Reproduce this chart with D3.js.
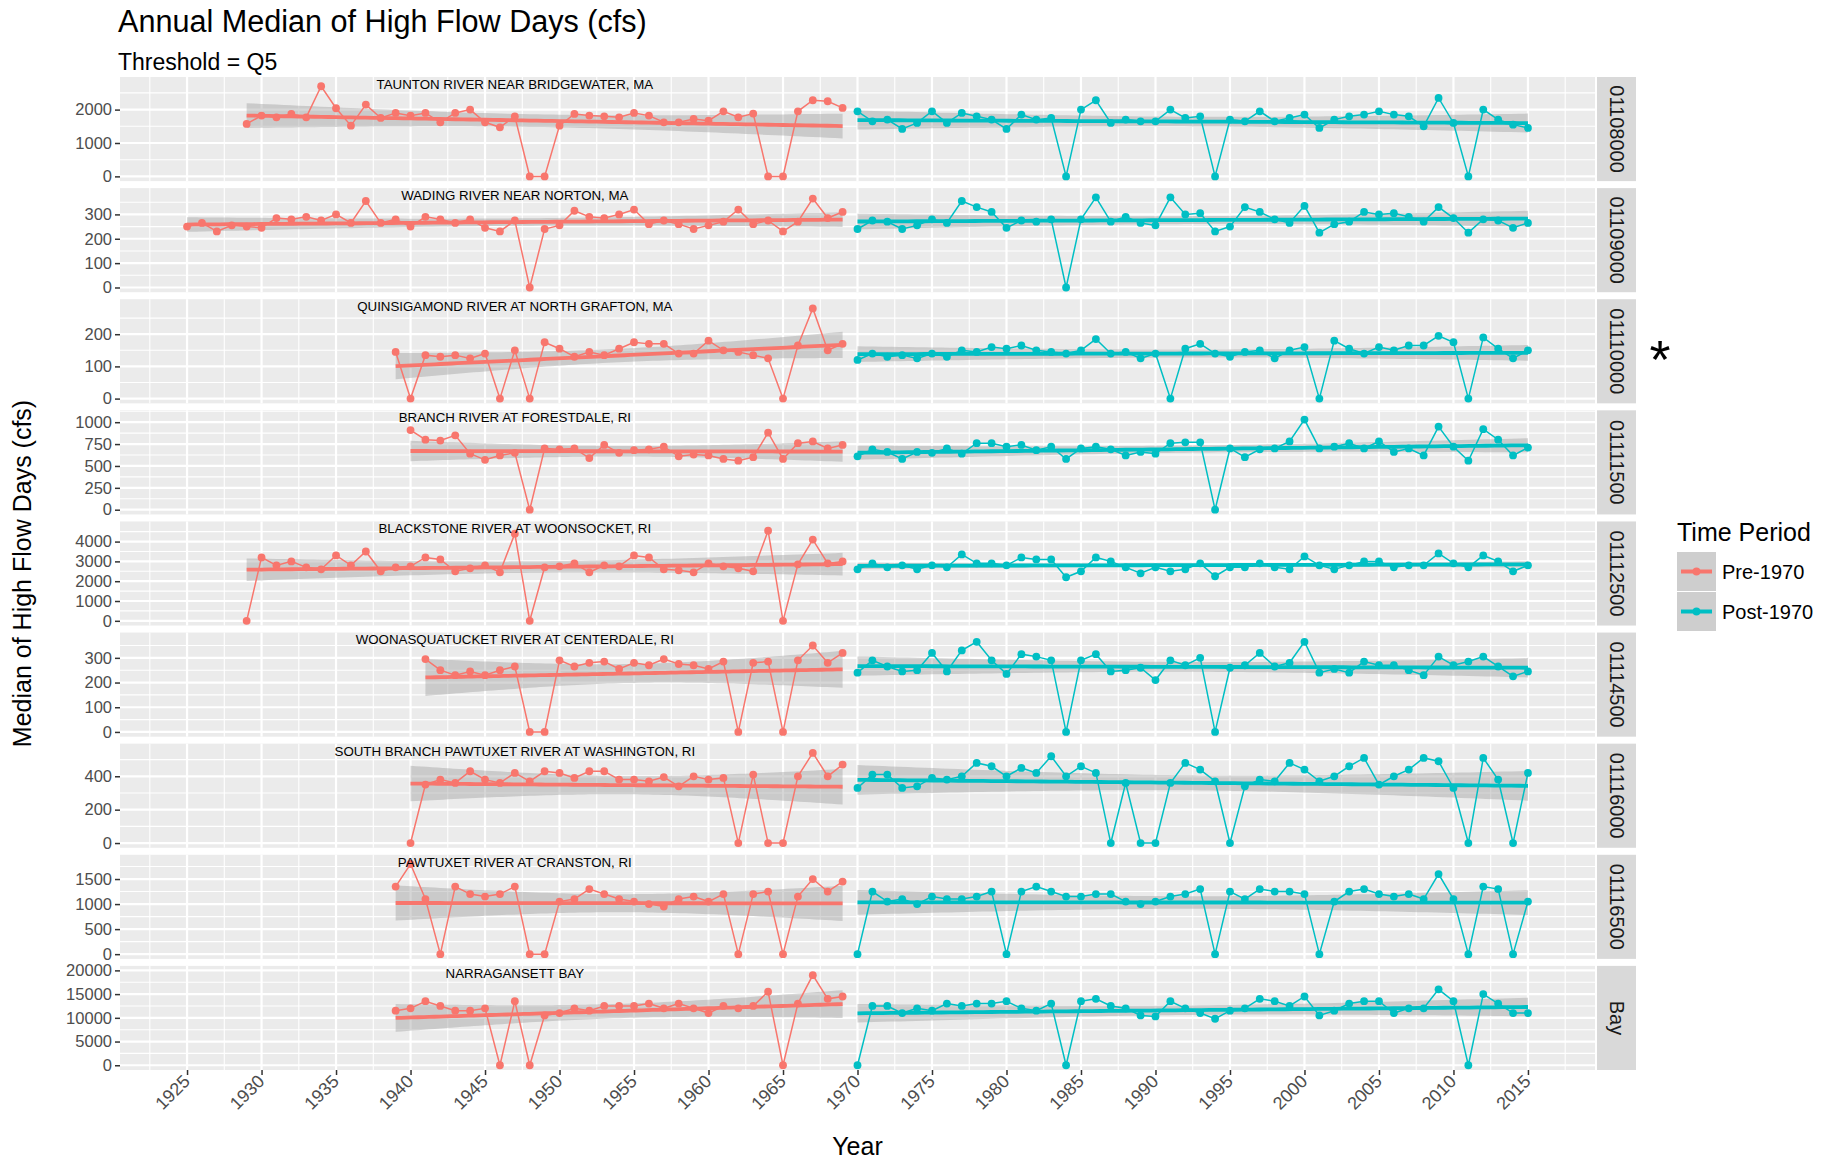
<!DOCTYPE html>
<html>
<head>
<meta charset="utf-8">
<script src="https://cdn.jsdelivr.net/npm/d3@7"></script>
<style>
  body { margin: 0; background: #ffffff; }
  svg { display: block; font-family: "Liberation Sans", Arial, Helvetica, sans-serif; }
</style>
</head>
<body>
<svg id="chart" width="1830" height="1160"></svg>
<script>
// ---- Data: annual median of high-flow days (cfs), threshold Q5 ----
const stations = ["01108000", "01109000", "01110000", "01111500", "01112500",
                  "01114500", "01116000", "01116500", "Bay"];
const riverNames = ["TAUNTON RIVER NEAR BRIDGEWATER, MA", "WADING RIVER NEAR NORTON, MA",
                    "QUINSIGAMOND RIVER AT NORTH GRAFTON, MA", "BRANCH RIVER AT FORESTDALE, RI",
                    "BLACKSTONE RIVER AT WOONSOCKET, RI", "WOONASQUATUCKET RIVER AT CENTERDALE, RI",
                    "SOUTH BRANCH PAWTUXET RIVER AT WASHINGTON, RI", "PAWTUXET RIVER AT CRANSTON, RI",
                    "NARRAGANSETT BAY"];
const preStartYear = [1929, 1925, 1939, 1940, 1929, 1941, 1940, 1939, 1939];
const postStartYear = 1970;
const periods = ["Pre-1970", "Post-1970"];
const xTickYears = [1925, 1930, 1935, 1940, 1945, 1950, 1955, 1960, 1965, 1970,
                    1975, 1980, 1985, 1990, 1995, 2000, 2005, 2010, 2015];
const yTicks = [
  [0, 1000, 2000], [0, 100, 200, 300], [0, 100, 200], [0, 250, 500, 750, 1000],
  [0, 1000, 2000, 3000, 4000], [0, 100, 200, 300], [0, 200, 400],
  [0, 500, 1000, 1500], [0, 5000, 10000, 15000, 20000]
];

const pre01108000 = [1570,1820,1770,1870,1770,2700,2040,1520,2150,1750,1900,1820,1900,1620,1900,2000,1620,1470,1800,0,0,1520,1870,1820,1800,1770,1900,1820,1620,1620,1720,1670,1950,1770,1880,0,0,1950,2280,2250,2050];
const post01108000 = [1950,1650,1700,1420,1600,1950,1600,1900,1800,1700,1420,1850,1700,1750,0,2000,2280,1600,1700,1650,1650,2000,1750,1800,0,1700,1650,1950,1650,1750,1850,1450,1700,1800,1850,1950,1850,1800,1500,2350,1600,0,2000,1700,1550,1450];

const pre01109000 = [250,265,230,255,250,245,285,280,290,275,300,265,355,265,280,250,290,280,265,280,245,230,275,0,240,255,315,290,285,300,320,260,275,260,240,255,270,320,260,275,230,270,365,285,310];
const post01109000 = [240,275,270,240,255,280,265,355,330,310,245,275,270,280,0,280,370,270,290,265,255,370,300,305,230,250,330,310,280,265,335,225,260,270,310,300,305,290,270,330,285,225,280,275,245,265];

const pre01110000 = [145,0,135,130,135,125,140,0,150,0,175,155,130,145,135,155,175,170,170,140,140,180,150,145,135,125,0,165,280,150,170];
const post01110000 = [120,140,130,135,125,140,130,150,145,160,155,165,150,145,140,150,185,140,145,125,140,0,155,170,140,130,145,150,125,150,160,0,180,155,140,160,150,165,165,195,175,0,190,155,125,150];

const pre01111500 = [910,800,790,850,640,570,620,650,0,700,690,700,590,740,650,680,690,720,610,630,620,580,560,600,880,580,760,780,700,740];
const post01111500 = [610,690,660,580,660,650,700,640,760,760,720,740,680,720,580,700,720,690,620,660,640,760,770,770,0,700,600,690,700,780,1030,700,720,760,700,780,660,700,620,950,720,560,920,800,620,710];

const pre01112500 = [0,3200,2800,3000,2700,2600,3300,2800,3500,2500,2700,2750,3200,3100,2500,2650,2800,2450,4400,0,2700,2750,2900,2450,2800,2750,3300,3200,2600,2550,2450,2900,2750,2650,2500,4550,0,2850,4100,2900,3000];
const post01112500 = [2600,2900,2700,2800,2600,2800,2700,3350,2900,2900,2800,3200,3100,3100,2200,2500,3200,3000,2700,2400,2700,2500,2600,2900,2250,2700,2700,2900,2700,2600,3250,2800,2600,2800,3000,3000,2700,2800,2800,3400,2900,2700,3300,3000,2500,2800];

const pre01114500 = [295,250,230,245,230,250,265,0,0,290,265,280,285,255,280,270,295,275,270,255,285,0,280,285,0,290,350,280,320];
const post01114500 = [240,290,265,245,250,320,245,330,365,290,235,315,305,290,0,290,315,245,250,260,210,290,270,300,0,260,270,320,265,280,365,240,255,240,285,270,270,250,230,305,270,285,305,265,225,245];

const pre01116000 = [0,350,380,360,430,380,360,420,370,430,420,390,430,430,380,380,370,395,340,400,380,390,0,410,0,0,400,540,400,470];
const post01116000 = [330,410,410,330,340,390,380,400,480,460,400,450,420,520,400,460,420,0,360,0,0,360,480,440,370,0,340,380,370,480,440,370,400,460,510,350,400,440,510,490,330,0,510,380,0,420];

const pre01116500 = [1350,1800,1100,0,1350,1200,1150,1200,1350,0,0,1050,1100,1300,1200,1100,1050,1000,950,1100,1150,1050,1200,0,1200,1250,0,1150,1500,1250,1450];
const post01116500 = [0,1250,1050,1100,1000,1150,1100,1100,1150,1250,0,1250,1350,1250,1150,1150,1200,1200,1050,1000,1050,1150,1200,1300,0,1250,1100,1300,1250,1250,1200,0,1050,1250,1300,1200,1150,1200,1100,1600,1100,0,1350,1300,0,1050];

const preBay = [11500,12000,13500,12500,11500,11500,12000,0,13500,0,10500,11000,12000,11500,12500,12500,12500,13000,12000,13000,12000,11000,12500,12000,12500,15500,0,13000,19000,14000,14500];
const postBay = [0,12500,12500,11000,12000,11500,13000,12500,13000,13000,13500,12000,11500,13000,0,13500,14000,12500,12000,10500,10300,13500,12000,11000,9800,11500,12000,14000,13500,12500,14500,10500,11500,13000,13500,13500,11000,12000,12000,16000,13500,0,15000,13000,11000,11000];

const preSeries = [pre01108000, pre01109000, pre01110000, pre01111500, pre01112500,
                   pre01114500, pre01116000, pre01116500, preBay];
const postSeries = [post01108000, post01109000, post01110000, post01111500, post01112500,
                    post01114500, post01116000, post01116500, postBay];

// ---- Layout ----
const panelLeft = 120, panelRight = 1595;
const plotTop = 77, plotBottom = 1070, panelGap = 7;
const nPanels = stations.length;
const panelH = (plotBottom - plotTop - panelGap * (nPanels - 1)) / nPanels;
const stripX = panelRight + 2, stripW = 39;
const colors = { "Pre-1970": "#F8766D", "Post-1970": "#00BFC4" };
const bg = "#EBEBEB";
const labelLift = 1.05;   // station labels sit just above each panel's maximum

const svg = d3.select("#chart");

// shared year scale (data range 1925-2015 with 5% padding)
const x = d3.scaleLinear().domain([1920.5, 2019.5]).range([panelLeft, panelRight]);
const xMinor = d3.range(1922.5, 2019.5, 5);

// Student t quantile (two-sided 95%) via Cornish-Fisher expansion
function tq(df) {
  const z = 1.959964;
  return z + (z ** 3 + z) / (4 * df) + (5 * z ** 5 + 16 * z ** 3 + 3 * z) / (96 * df * df);
}

// linear fit with 95% confidence band, like geom_smooth(method = "lm")
function lmBand(pts) {
  const n = pts.length;
  const mx = d3.mean(pts, d => d.year), my = d3.mean(pts, d => d.value);
  let sxx = 0, sxy = 0;
  pts.forEach(d => { sxx += (d.year - mx) ** 2; sxy += (d.year - mx) * (d.value - my); });
  const b = sxy / sxx, a = my - b * mx;
  const s2 = d3.sum(pts, d => (d.value - a - b * d.year) ** 2) / (n - 2);
  const t = tq(n - 2);
  const x0 = pts[0].year, x1 = pts[n - 1].year;
  return d3.range(0, 81).map(i => {
    const xv = x0 + (x1 - x0) * i / 80;
    const fit = a + b * xv;
    const se = Math.sqrt(s2 * (1 / n + (xv - mx) ** 2 / sxx));
    return { year: xv, fit, lo: fit - t * se, hi: fit + t * se };
  });
}

// ---- Titles ----
svg.append("text").attr("x", 118).attr("y", 32).attr("font-size", 30.6).attr("fill", "#000")
  .text("Annual Median of High Flow Days (cfs)");
svg.append("text").attr("x", 118).attr("y", 70).attr("font-size", 23).attr("fill", "#000")
  .text("Threshold = Q5");

// ---- Panels ----
stations.forEach((st, i) => {
  const top = plotTop + i * (panelH + panelGap);
  const g = svg.append("g").attr("transform", `translate(0,${top})`);

  const pre = preSeries[i].map((v, k) => ({ year: preStartYear[i] + k, value: v }));
  const post = postSeries[i].map((v, k) => ({ year: postStartYear + k, value: v }));
  const bandPre = lmBand(pre), bandPost = lmBand(post);
  const maxVal = d3.max(pre.concat(post), d => d.value);

  const allVals = [maxVal * labelLift]
    .concat(bandPre.map(d => d.hi), bandPost.map(d => d.hi), bandPre.map(d => d.lo), bandPost.map(d => d.lo));
  const lo = Math.min(0, d3.min(allVals)), hi = d3.max(allVals);
  const pad = (hi - lo) * 0.05;
  const y = d3.scaleLinear().domain([lo - pad, hi + pad]).range([panelH, 0]);

  // background and grid
  g.append("rect").attr("x", panelLeft).attr("y", 0).attr("width", panelRight - panelLeft)
    .attr("height", panelH).attr("fill", bg);
  const ticks = yTicks[i];
  const step = ticks[1] - ticks[0];
  const yMinor = d3.range(ticks[0] - step / 2, hi + pad + step, step)
    .filter(v => v > lo - pad && v < hi + pad);
  g.selectAll(".ymin").data(yMinor).join("line")
    .attr("x1", panelLeft).attr("x2", panelRight).attr("y1", d => y(d)).attr("y2", d => y(d))
    .attr("stroke", "#fff").attr("stroke-width", 1.1);
  g.selectAll(".xmin").data(xMinor).join("line")
    .attr("x1", d => x(d)).attr("x2", d => x(d)).attr("y1", 0).attr("y2", panelH)
    .attr("stroke", "#fff").attr("stroke-width", 1.1);
  g.selectAll(".ymaj").data(ticks).join("line")
    .attr("x1", panelLeft).attr("x2", panelRight).attr("y1", d => y(d)).attr("y2", d => y(d))
    .attr("stroke", "#fff").attr("stroke-width", 2.2);
  g.selectAll(".xmaj").data(xTickYears).join("line")
    .attr("x1", d => x(d)).attr("x2", d => x(d)).attr("y1", 0).attr("y2", panelH)
    .attr("stroke", "#fff").attr("stroke-width", 2.2);

  // y axis
  const ax = g.append("g").attr("transform", `translate(${panelLeft},0)`)
    .call(d3.axisLeft(y).tickValues(ticks).tickSize(5).tickPadding(3).tickFormat(d3.format("d")));
  ax.select(".domain").remove();
  ax.selectAll("line").attr("stroke", "#333").attr("stroke-width", 1.5);
  ax.selectAll("text").attr("font-size", 16.5).attr("fill", "#4D4D4D")
    .attr("font-family", "Liberation Sans, Arial, sans-serif");

  const clipId = "clip" + i;
  g.append("clipPath").attr("id", clipId).append("rect")
    .attr("x", panelLeft).attr("y", 0).attr("width", panelRight - panelLeft).attr("height", panelH);
  const pg = g.append("g").attr("clip-path", `url(#${clipId})`);

  // confidence ribbons
  const area = d3.area().x(d => x(d.year)).y0(d => y(d.lo)).y1(d => y(d.hi));
  [bandPre, bandPost].forEach(b => {
    pg.append("path").attr("d", area(b)).attr("fill", "#999999").attr("fill-opacity", 0.4);
  });

  // series lines and points
  const line = d3.line().x(d => x(d.year)).y(d => y(d.value));
  [[pre, periods[0]], [post, periods[1]]].forEach(([data, p]) => {
    pg.append("path").attr("d", line(data)).attr("fill", "none")
      .attr("stroke", colors[p]).attr("stroke-width", 1.5);
    pg.selectAll(null).data(data).join("circle")
      .attr("cx", d => x(d.year)).attr("cy", d => y(d.value)).attr("r", 3.9)
      .attr("fill", colors[p]);
  });

  // regression lines
  const fitLine = d3.line().x(d => x(d.year)).y(d => y(d.fit));
  [[bandPre, periods[0]], [bandPost, periods[1]]].forEach(([b, p]) => {
    pg.append("path").attr("d", fitLine(b)).attr("fill", "none")
      .attr("stroke", colors[p]).attr("stroke-width", 3.8);
  });

  // station name label just above the series maximum
  g.append("text").attr("x", x(1947)).attr("y", y(maxVal * 1.02))
    .attr("text-anchor", "middle").attr("dominant-baseline", "central")
    .attr("font-size", 13.3).attr("fill", "#000").text(riverNames[i]);

  // facet strip
  g.append("rect").attr("x", stripX).attr("y", 0).attr("width", stripW).attr("height", panelH)
    .attr("fill", "#D9D9D9");
  g.append("text")
    .attr("transform", `translate(${stripX + stripW / 2},${panelH / 2}) rotate(90)`)
    .attr("text-anchor", "middle").attr("dominant-baseline", "central")
    .attr("font-size", 20).attr("fill", "#1A1A1A").text(st);

  // bottom x axis
  if (i === nPanels - 1) {
    const xa = g.append("g").attr("transform", `translate(0,${panelH})`)
      .call(d3.axisBottom(x).tickValues(xTickYears).tickSize(5).tickPadding(2).tickFormat(d3.format("d")));
    xa.select(".domain").remove();
    xa.selectAll("line").attr("stroke", "#333").attr("stroke-width", 1.5);
    xa.selectAll("text").attr("font-size", 18).attr("fill", "#4D4D4D")
      .attr("font-family", "Liberation Sans, Arial, sans-serif")
      .attr("text-anchor", "end").attr("dy", "0.75em")
      .attr("transform", "translate(-11,-2) rotate(-45)");
  }
});

// asterisk beside the Quinsigamond strip
{
  const top2 = plotTop + 2 * (panelH + panelGap);
  svg.append("text").attr("x", 1660).attr("y", top2 + panelH / 2 + 27)
    .attr("text-anchor", "middle").attr("font-size", 54).attr("fill", "#000").text("*");
}

// axis titles
svg.append("text").attr("x", (panelLeft + panelRight) / 2).attr("y", 1155)
  .attr("text-anchor", "middle").attr("font-size", 25).attr("fill", "#000").text("Year");
svg.append("text")
  .attr("transform", `translate(31,${(plotTop + plotBottom) / 2}) rotate(-90)`)
  .attr("text-anchor", "middle").attr("font-size", 25).attr("fill", "#000")
  .text("Median of High Flow Days (cfs)");

// legend
const lg = svg.append("g").attr("transform", "translate(1677,520)");
lg.append("text").attr("x", 0).attr("y", 21).attr("font-size", 25).attr("fill", "#000").text("Time Period");
periods.forEach((p, k) => {
  const ky = 32 + k * 40;
  lg.append("rect").attr("x", 0).attr("y", ky).attr("width", 39).attr("height", 39).attr("fill", "#F2F2F2");
  lg.append("rect").attr("x", 0).attr("y", ky).attr("width", 39).attr("height", 39)
    .attr("fill", "#999999").attr("fill-opacity", 0.4);
  lg.append("line").attr("x1", 4).attr("x2", 35).attr("y1", ky + 19.5).attr("y2", ky + 19.5)
    .attr("stroke", colors[p]).attr("stroke-width", 4);
  lg.append("circle").attr("cx", 19.5).attr("cy", ky + 19.5).attr("r", 3.9).attr("fill", colors[p]);
  lg.append("text").attr("x", 45).attr("y", ky + 19.5).attr("dominant-baseline", "central")
    .attr("font-size", 20).attr("fill", "#000").text(p);
});
</script>
</body>
</html>
